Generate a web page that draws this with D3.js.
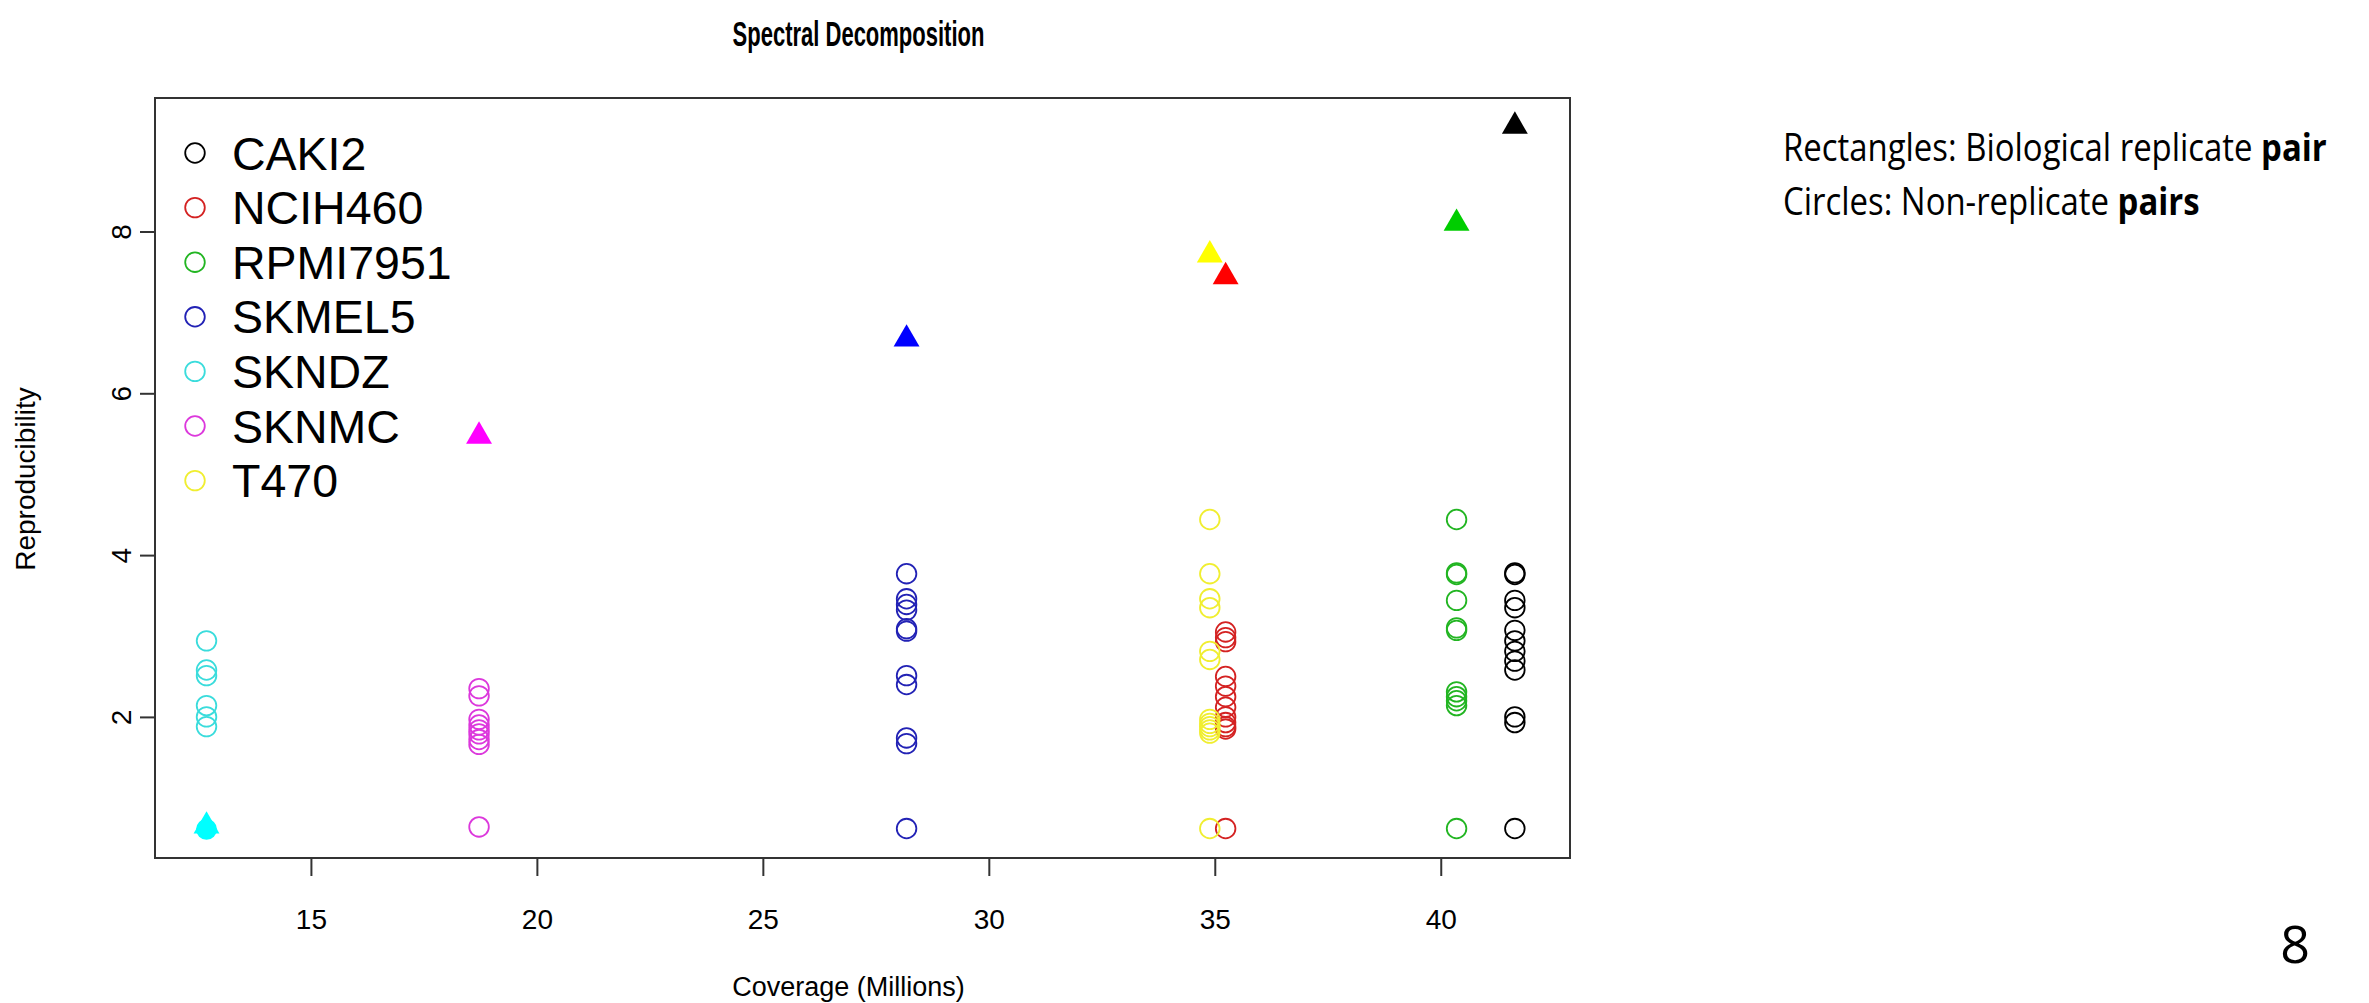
<!DOCTYPE html>
<html>
<head>
<meta charset="utf-8">
<script src="https://cdn.jsdelivr.net/npm/d3@7"></script>
<style>
  html, body { margin: 0; padding: 0; background: #fff; }
  svg { display: block; }
</style>
</head>
<body>
<svg id="chart" width="2369" height="1003"></svg>
<script>
// ---------------- data ----------------
const cellLines = ["CAKI2", "NCIH460", "RPMI7951", "SKMEL5", "SKNDZ", "SKNMC", "T470"];
const coverage = [41.64, 35.24, 40.35, 28.18, 12.69, 18.72, 34.89];   // millions

// non-replicate pairs (open circles), one list per cell line
const caki2Pairs    = [3.78, 3.76, 3.44, 3.35, 3.07, 2.94, 2.81, 2.69, 2.58, 2.00, 1.93, 0.62];
const ncih460Pairs  = [3.05, 2.98, 2.93, 2.50, 2.38, 2.25, 2.12, 2.00, 1.93, 1.88, 1.85, 0.62];
const rpmi7951Pairs = [4.44, 3.78, 3.76, 3.44, 3.10, 3.07, 2.31, 2.25, 2.20, 2.14, 0.62];
const skmel5Pairs   = [3.77, 3.46, 3.39, 3.32, 3.09, 3.06, 2.51, 2.40, 1.74, 1.67, 0.62];
const skndzPairs    = [2.94, 2.58, 2.51, 2.14, 2.00, 1.88];
const sknmcPairs    = [2.35, 2.26, 1.97, 1.90, 1.84, 1.79, 1.72, 1.66, 0.64];
const t470Pairs     = [4.44, 3.77, 3.46, 3.35, 2.81, 2.71, 1.97, 1.92, 1.88, 1.84, 1.80, 0.62];
const pairValues = [caki2Pairs, ncih460Pairs, rpmi7951Pairs, skmel5Pairs, skndzPairs, sknmcPairs, t470Pairs];

// biological replicate pair (filled triangles)
const replicateValues = [9.30, 7.44, 8.10, 6.67, 0.65, 5.47, 7.71];
// filled-circle cluster under the SKNDZ replicate marker
const filledCircleLine = ["SKNDZ"];
const filledCircleValue = [0.61];

const xTicks = [15, 20, 25, 30, 35, 40];
const yTicks = [2, 4, 6, 8];
const xLimits = [11.55, 42.86];
const yLimits = [0.256, 9.65];

const titleText = "Spectral Decomposition";
const xLabelText = "Coverage (Millions)";
const yLabelText = "Reproducibility";
const noteLines = [["Rectangles: Biological replicate ", "pair"], ["Circles: Non-replicate ", "pairs"]];
const pageNumber = "8";

// ---------------- styles ----------------
const fillColors   = ["#000000", "#FF0000", "#00CD00", "#0000FF", "#00FFFF", "#FF00FF", "#FFFF00"];
const strokeColors = ["#000000", "#D42222", "#22B522", "#2222B5", "#3ADCDC", "#DC38DC", "#F0EE30"];

// ---------------- layout ----------------
const svg = d3.select("#chart");
const plot = { left: 155, right: 1570, top: 98, bottom: 858 };
const x = d3.scaleLinear().domain(xLimits).range([plot.left, plot.right]);
const y = d3.scaleLinear().domain(yLimits).range([plot.bottom, plot.top]);
const fillColor = d3.scaleOrdinal().domain(cellLines).range(fillColors);
const strokeColor = d3.scaleOrdinal().domain(cellLines).range(strokeColors);
const FONT = "'Liberation Sans', Arial, Helvetica, sans-serif";

// box
svg.append("rect")
  .attr("x", plot.left).attr("y", plot.top)
  .attr("width", plot.right - plot.left).attr("height", plot.bottom - plot.top)
  .attr("fill", "none").attr("stroke", "#333").attr("stroke-width", 2);

// x axis
const xAxis = d3.axisBottom(x).tickValues(xTicks).tickSize(18).tickPadding(33).tickFormat(d3.format("d"));
const gx = svg.append("g").attr("transform", `translate(0,${plot.bottom})`).call(xAxis);
gx.select(".domain").attr("d", `M${x(xTicks[0])},0H${x(xTicks[xTicks.length-1])}`).attr("stroke", "#333").attr("stroke-width", 2);
gx.selectAll(".tick line").attr("stroke", "#333").attr("stroke-width", 2);
gx.selectAll(".tick text").attr("font-family", FONT).attr("font-size", 28).attr("fill", "#000");

// y axis
const yAxis = d3.axisLeft(y).tickValues(yTicks).tickSize(15).tickPadding(0).tickFormat(d3.format("d"));
const gy = svg.append("g").attr("transform", `translate(${plot.left},0)`).call(yAxis);
gy.select(".domain").attr("d", `M0,${y(yTicks[0])}V${y(yTicks[yTicks.length-1])}`).attr("stroke", "#333").attr("stroke-width", 2);
gy.selectAll(".tick line").attr("stroke", "#333").attr("stroke-width", 2);
gy.selectAll(".tick text")
  .attr("font-family", FONT).attr("font-size", 28).attr("fill", "#000")
  .attr("x", null).attr("dy", null)
  .attr("text-anchor", "middle")
  .attr("transform", "translate(-23,0) rotate(-90)")
  .attr("dy", "-0.05em");

// title & labels
const title = svg.append("text").attr("font-family", FONT).attr("font-weight", "bold")
  .attr("font-size", 35).attr("text-anchor", "middle").text(titleText);
{
  const w = title.node().getComputedTextLength();
  title.attr("transform", `translate(${(plot.left + plot.right) / 2 - 4},46) scale(${252 / w},1)`);
}
svg.append("text").attr("x", (plot.left + plot.right) / 2 - 14).attr("y", 996)
  .attr("text-anchor", "middle").attr("font-family", FONT).attr("font-size", 27).text(xLabelText);
svg.append("text").attr("transform", `translate(35,${(plot.top + plot.bottom) / 2 + 1}) rotate(-90)`)
  .attr("text-anchor", "middle").attr("font-family", FONT).attr("font-size", 28).text(yLabelText);

// points
const circles = [];
cellLines.forEach((name, i) => {
  pairValues[i].forEach(v => circles.push({ name, x: coverage[i], v }));
});
const gPts = svg.append("g");
gPts.selectAll("circle.pair").data(circles).join("circle")
  .attr("class", "pair")
  .attr("cx", d => x(d.x)).attr("cy", d => y(d.v)).attr("r", 9.8)
  .attr("fill", "none").attr("stroke", d => strokeColor(d.name)).attr("stroke-width", 1.8);

filledCircleLine.forEach((name, k) => {
  const i = cellLines.indexOf(name);
  gPts.append("circle").attr("cx", x(coverage[i])).attr("cy", y(filledCircleValue[k]))
    .attr("r", 10.5).attr("fill", fillColor(name));
});

const tri = d3.symbol().type(d3.symbolTriangle).size(290);
gPts.selectAll("path.rep").data(cellLines).join("path")
  .attr("class", "rep")
  .attr("d", tri)
  .attr("transform", (d, i) => `translate(${x(coverage[i])},${y(replicateValues[i])})`)
  .attr("fill", d => fillColor(d));

// legend
const lg = svg.append("g");
cellLines.forEach((name, i) => {
  const cy = 153 + i * 54.6;
  lg.append("circle").attr("cx", 195).attr("cy", cy).attr("r", 9.8)
    .attr("fill", "none").attr("stroke", strokeColor(name)).attr("stroke-width", 1.8);
  lg.append("text").attr("x", 232).attr("y", cy + 16.5).attr("font-family", FONT)
    .attr("font-size", 46.5).text(name);
});

// side notes
const NOTEFONT = "'Open Sans', 'Noto Sans', sans-serif";
let noteScale = 1;
noteLines.forEach((parts, i) => {
  const g = svg.append("g");
  const t = g.append("text").attr("x", 0).attr("y", 0)
    .attr("font-family", NOTEFONT).attr("font-size", 38).attr("fill", "#000");
  t.append("tspan").text(parts[0]);
  t.append("tspan").attr("font-weight", "bold").text(parts[1]);
  const w = t.node().getComputedTextLength();
  if (i === 0) noteScale = 544 / w;
  g.attr("transform", `translate(1783,${161 + i * 54}) scale(${noteScale},1)`);
});
svg.append("text").attr("x", 2295).attr("y", 963).attr("text-anchor", "middle")
  .attr("font-family", NOTEFONT).attr("font-size", 52).text(pageNumber);
</script>
</body>
</html>
